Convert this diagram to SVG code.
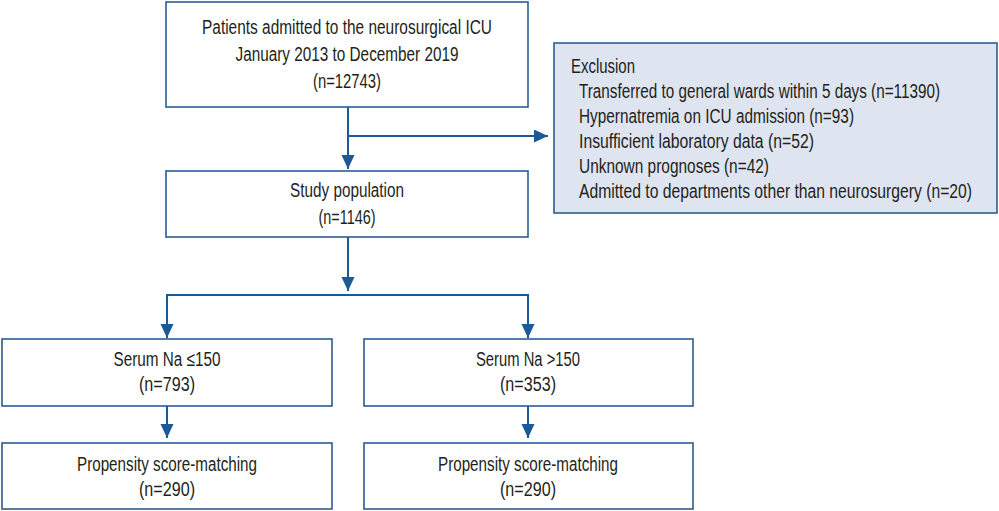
<svg xmlns="http://www.w3.org/2000/svg" width="999" height="511" viewBox="0 0 999 511">
<style>
.box{fill:#ffffff;stroke:#2a5d93;stroke-width:1.6}
.exc{fill:#dfe5f0;stroke:#2a5d93;stroke-width:1.6}
.t{font-family:"Liberation Sans","Arial",sans-serif;font-size:20px;fill:#231f20}
.c{text-anchor:middle}
.ln{stroke:#1b5a97;stroke-width:2;fill:none}
</style>
<defs>
<marker id="ah" markerUnits="userSpaceOnUse" markerWidth="14" markerHeight="16" viewBox="0 0 14 16" refX="14" refY="6.5" orient="auto">
<path d="M0,0 L14,6.5 L0,13 Z" fill="#1b5a97"/>
</marker>
</defs>
<g id="connectors">
<path class="ln" d="M348,107 V169" marker-end="url(#ah)"/>
<path class="ln" d="M348,136 H548" marker-end="url(#ah)"/>
<path class="ln" d="M348,237 V291" marker-end="url(#ah)"/>
<path class="ln" d="M167,338 V295 H528 V338" marker-end="url(#ah)"/>
<path class="ln" d="M167,295 V338" marker-end="url(#ah)"/>
<path class="ln" d="M167,406 V438" marker-end="url(#ah)"/>
<path class="ln" d="M528,406 V438" marker-end="url(#ah)"/>
</g>
<g id="n1">
<rect class="box" x="166" y="2" width="362" height="105"/>
<text class="t c" x="347" y="34" textLength="290" lengthAdjust="spacingAndGlyphs">Patients admitted to the neurosurgical ICU</text>
<text class="t c" x="347" y="61" textLength="223" lengthAdjust="spacingAndGlyphs">January 2013 to December 2019</text>
<text class="t c" x="347" y="88" textLength="68" lengthAdjust="spacingAndGlyphs">(n=12743)</text>
</g>
<g id="exclusion">
<rect class="exc" x="554" y="43" width="443" height="170"/>
<text class="t" x="571" y="73" textLength="64" lengthAdjust="spacingAndGlyphs">Exclusion</text>
<text class="t" x="579" y="98" textLength="361" lengthAdjust="spacingAndGlyphs">Transferred to general wards within 5 days (n=11390)</text>
<text class="t" x="579" y="123" textLength="275" lengthAdjust="spacingAndGlyphs">Hypernatremia on ICU admission (n=93)</text>
<text class="t" x="579" y="148" textLength="235" lengthAdjust="spacingAndGlyphs">Insufficient laboratory data (n=52)</text>
<text class="t" x="579" y="173" textLength="190" lengthAdjust="spacingAndGlyphs">Unknown prognoses (n=42)</text>
<text class="t" x="579" y="198" textLength="393" lengthAdjust="spacingAndGlyphs">Admitted to departments other than neurosurgery (n=20)</text>
</g>
<g id="n2">
<rect class="box" x="166" y="171" width="362" height="66"/>
<text class="t c" x="347" y="197" textLength="114" lengthAdjust="spacingAndGlyphs">Study population</text>
<text class="t c" x="347" y="224" textLength="57" lengthAdjust="spacingAndGlyphs">(n=1146)</text>
</g>
<g id="n3">
<rect class="box" x="2" y="339" width="330" height="67"/>
<text class="t c" x="167" y="366" textLength="107" lengthAdjust="spacingAndGlyphs">Serum Na ≤150</text>
<text class="t c" x="167" y="391" textLength="56" lengthAdjust="spacingAndGlyphs">(n=793)</text>
</g>
<g id="n4">
<rect class="box" x="364" y="339" width="329" height="67"/>
<text class="t c" x="528" y="366" textLength="104" lengthAdjust="spacingAndGlyphs">Serum Na &gt;150</text>
<text class="t c" x="528" y="391" textLength="56" lengthAdjust="spacingAndGlyphs">(n=353)</text>
</g>
<g id="n5">
<rect class="box" x="2" y="443" width="330" height="66"/>
<text class="t c" x="167" y="471" textLength="180" lengthAdjust="spacingAndGlyphs">Propensity score-matching</text>
<text class="t c" x="167" y="496" textLength="56" lengthAdjust="spacingAndGlyphs">(n=290)</text>
</g>
<g id="n6">
<rect class="box" x="364" y="443" width="329" height="66"/>
<text class="t c" x="528" y="471" textLength="180" lengthAdjust="spacingAndGlyphs">Propensity score-matching</text>
<text class="t c" x="528" y="496" textLength="56" lengthAdjust="spacingAndGlyphs">(n=290)</text>
</g>
</svg>
